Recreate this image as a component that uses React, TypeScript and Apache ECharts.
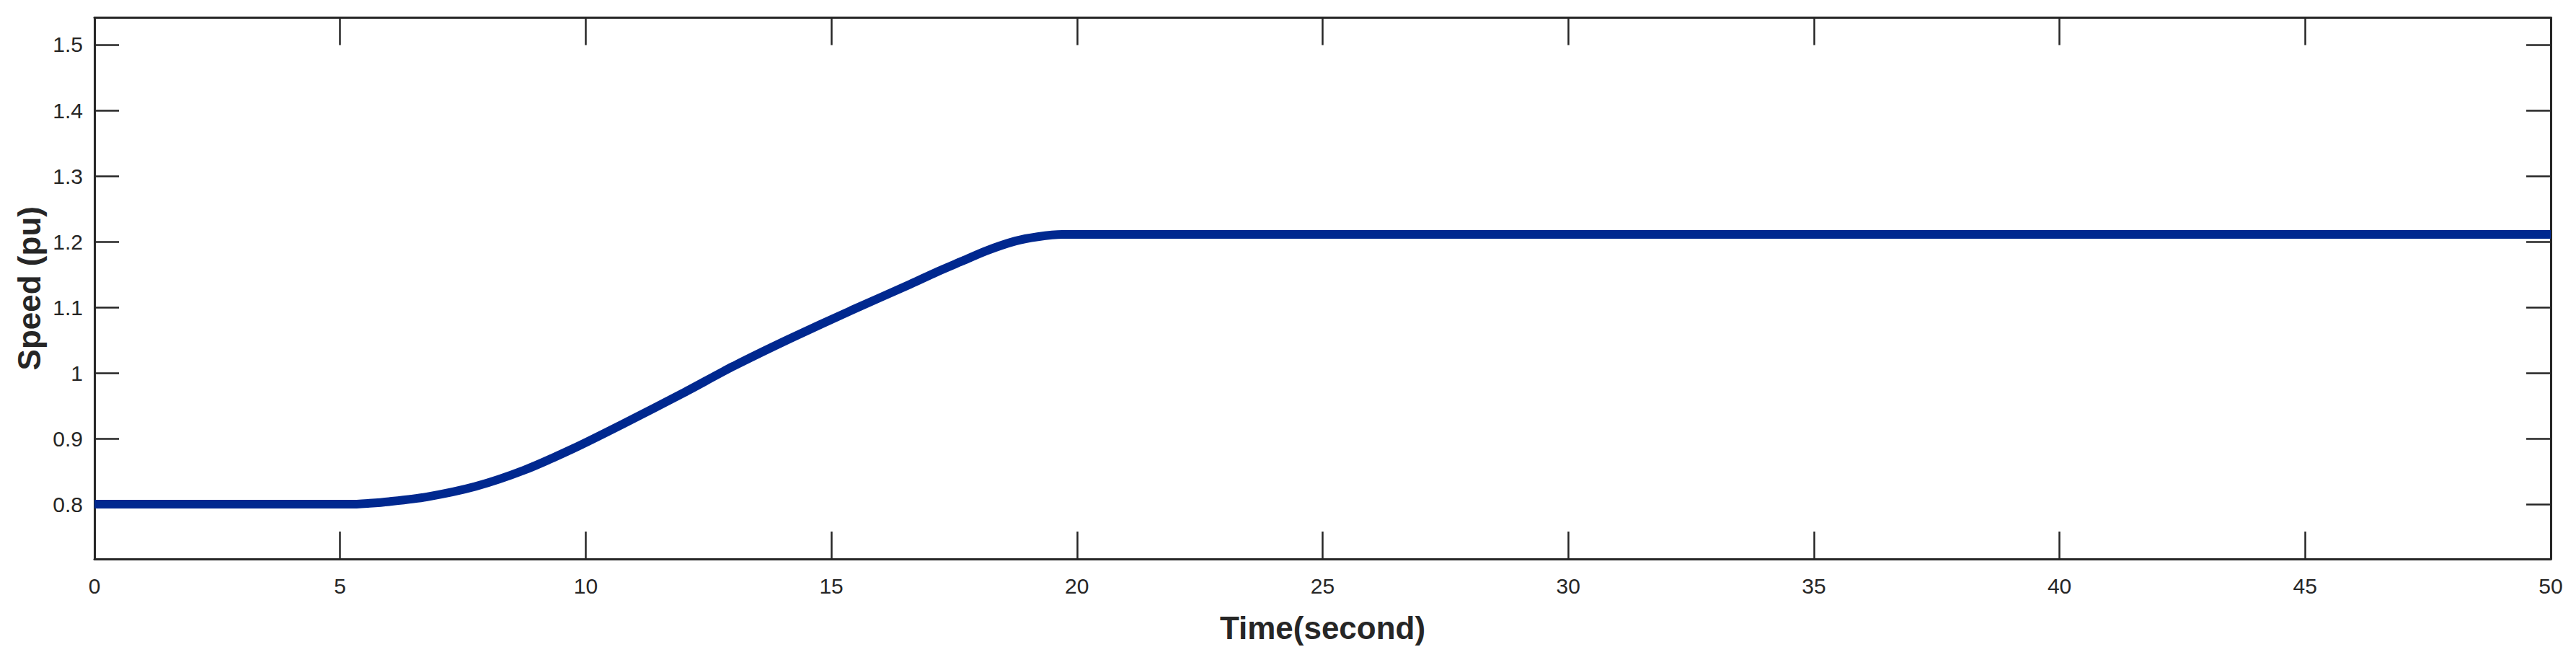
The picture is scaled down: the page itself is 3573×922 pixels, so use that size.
import React, { useEffect, useRef } from "react";
import * as echarts from "echarts";

const timeSeconds = [0, 5.2, 5.6, 6.0, 6.75, 7.75, 8.75, 9.75, 10.75, 12.0, 13.0, 14.15, 15.4, 16.6, 17.15, 17.65, 18.15, 18.75, 19.2, 19.7, 50];
const speedPu = [0.8, 0.8, 0.8015, 0.804, 0.811, 0.827, 0.852, 0.885, 0.922, 0.97, 1.01, 1.052, 1.095, 1.135, 1.154, 1.17, 1.186, 1.201, 1.2075, 1.211, 1.211];
const yTicks = [0.8, 0.9, 1.0, 1.1, 1.2, 1.3, 1.4, 1.5];
const xName = "Time(second)";
const yName = "Speed (pu)";

const AXIS_COLOR = "#262626";
const FONT = "'Liberation Sans', Arial, Helvetica, sans-serif";

export default function App() {
  const ref = useRef<HTMLDivElement>(null);
  useEffect(() => {
    if (!ref.current) return;
    const chart = echarts.init(ref.current, undefined, { renderer: "svg" });
    const axisLine = { show: true, onZero: false, lineStyle: { color: AXIS_COLOR, width: 3 } };
    const xTick = { show: true, inside: true, length: 38, lineStyle: { color: AXIS_COLOR, width: 2.5 } };
    const yTick = { show: true, inside: true, length: 34, lineStyle: { color: AXIS_COLOR, width: 2.5 }, customValues: yTicks };
    const data = timeSeconds.map((t, i) => [t, speedPu[i]]);
    chart.setOption({
      animation: false,
      backgroundColor: "#ffffff",
      grid: { left: 131, right: 35, top: 24.5, bottom: 147, containLabel: false },
      xAxis: [
        {
          type: "value",
          min: 0,
          max: 50,
          interval: 5,
          position: "bottom",
          axisLine,
          axisTick: xTick,
          splitLine: { show: false },
          axisLabel: { show: true, color: AXIS_COLOR, fontSize: 30, fontFamily: FONT, margin: 22 },
          name: xName,
          nameLocation: "middle",
          nameGap: 73,
          nameTextStyle: { color: AXIS_COLOR, fontSize: 44, fontWeight: "bold", fontFamily: FONT },
        },
        {
          type: "value",
          min: 0,
          max: 50,
          interval: 5,
          position: "top",
          axisLine,
          axisTick: xTick,
          splitLine: { show: false },
          axisLabel: { show: false },
        },
      ],
      yAxis: [
        {
          type: "value",
          min: 0.7166,
          max: 1.5412,
          position: "left",
          axisLine,
          axisTick: yTick,
          splitLine: { show: false },
          axisLabel: { show: true, color: AXIS_COLOR, fontSize: 30, fontFamily: FONT, margin: 16, customValues: yTicks, formatter: (v: number) => String(Math.round(v * 10) / 10) },
          name: yName,
          nameLocation: "middle",
          nameRotate: 90,
          nameGap: 66,
          nameTextStyle: { color: AXIS_COLOR, fontSize: 44, fontWeight: "bold", fontFamily: FONT },
        },
        {
          type: "value",
          min: 0.7166,
          max: 1.5412,
          position: "right",
          axisLine,
          axisTick: yTick,
          splitLine: { show: false },
          axisLabel: { show: false },
        },
      ],
      series: [
        {
          type: "line",
          data,
          xAxisIndex: 0,
          yAxisIndex: 0,
          showSymbol: false,
          smooth: 0.25,
          lineStyle: { color: "#00288f", width: 12 },
          clip: true,
        },
      ],
    });
    return () => chart.dispose();
  }, []);
  return (
    <div
      ref={ref}
      style={{ position: "fixed", left: 0, top: 0, width: 3573, height: 922, background: "#fff" }}
    />
  );
}
